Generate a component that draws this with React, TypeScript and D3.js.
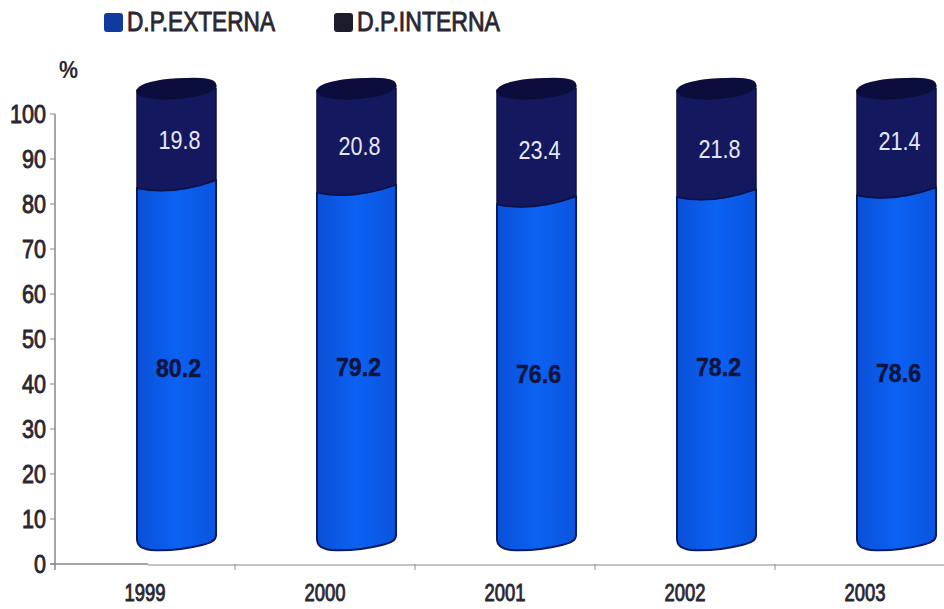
import React from "react";
import * as d3 from "d3";

const years = ["1999", "2000", "2001", "2002", "2003"];
const externa = [80.2, 79.2, 76.6, 78.2, 78.6];
const interna = [19.8, 20.8, 23.4, 21.8, 21.4];
const yTicks = [0, 10, 20, 30, 40, 50, 60, 70, 80, 90, 100];

// Hand-placed label offsets, in px, from the middle of each segment.
const externaNudge = [5, 2, 3, 0, 6];
const internaNudge = [2, 6, 4, 7, 0];

const W = 944;
const H = 609;
const AXIS_COLOR = "#8d8691";
const FONT = "'Liberation Sans', Arial, sans-serif";
const INK = "#2b2730";

const x = d3.scaleBand<string>().domain(years).range([55, 955]);
const y = d3.scaleLinear().domain([0, 100]).range([564, 114]);

// The cylinders sit behind the axis plane, up and to the right.
const DEPTH_X = 31;
const DEPTH_Y = 21;
const BAR_W = 79;

function Cylinder({ year, low, high, lowNudge, highNudge }: { year: string; low: number; high: number; lowNudge: number; highNudge: number }) {
  const cx = (x(year) as number) + x.bandwidth() / 2 + DEPTH_X + 0.5;
  const x0 = cx - BAR_W / 2;
  const x1 = cx + BAR_W / 2;
  const yBase = y(0) - DEPTH_Y;
  const ySplit = y(low) - DEPTH_Y;
  const yTop = y(low + high) - DEPTH_Y;

  const lower = d3.path();
  lower.moveTo(x0, ySplit + 6);
  lower.bezierCurveTo(x0 + BAR_W * 0.3, ySplit + 11, x0 + BAR_W * 0.65, ySplit + 8, x1, ySplit - 2);
  lower.lineTo(x1, yBase - 8);
  lower.bezierCurveTo(x1, yBase - 2, x1 - 6, yBase, x1 - 14, yBase + 2);
  lower.bezierCurveTo(x1 - 30, yBase + 6, x0 + 30, yBase + 8, x0 + 14, yBase + 7);
  lower.bezierCurveTo(x0 + 5, yBase + 6, x0, yBase + 2, x0, yBase - 4);
  lower.closePath();

  const upper = d3.path();
  upper.moveTo(x0, yTop - 3);
  upper.lineTo(x1, yTop - 5);
  upper.lineTo(x1, ySplit - 2);
  upper.bezierCurveTo(x0 + BAR_W * 0.65, ySplit + 8, x0 + BAR_W * 0.3, ySplit + 11, x0, ySplit + 6);
  upper.closePath();

  const lid = d3.path();
  lid.moveTo(x0, yTop - 2);
  lid.bezierCurveTo(x0 + 1, yTop - 9, x0 + 22, yTop - 13, x0 + 40, yTop - 14);
  lid.bezierCurveTo(x1 - 14, yTop - 15, x1, yTop - 15, x1, yTop - 7);
  lid.bezierCurveTo(x1 - 6, yTop + 3, x0 + 38, yTop + 8, x0 + 16, yTop + 5);
  lid.bezierCurveTo(x0 + 6, yTop + 4, x0 + 1, yTop + 2, x0, yTop - 2);
  lid.closePath();

  const lowMid = (yBase + ySplit) / 2 + lowNudge;
  const highMid = (ySplit + yTop) / 2 + highNudge;

  return (
    <g>
      <path d={lower.toString()} fill="url(#externaFill)" stroke="#0a1a5e" strokeWidth={2} strokeLinejoin="round" />
      <path d={upper.toString()} fill="#14195f" stroke="#0e1148" strokeWidth={1.5} strokeLinejoin="round" />
      <path d={lid.toString()} fill="#0b0d3d" stroke="#0b0d3d" strokeWidth={1.5} strokeLinejoin="round" />
      <text x={cx + 2} y={lowMid} dy="0.36em" textAnchor="middle" fontFamily={FONT} fontSize={26} fontWeight={700} fill="#0e1440" stroke="#0e1440" strokeWidth={0.5} textLength={45} lengthAdjust="spacingAndGlyphs">
        {low.toFixed(1)}
      </text>
      <text x={cx + 3} y={highMid} dy="0.36em" textAnchor="middle" fontFamily={FONT} fontSize={25} fill="#e6e7f2" textLength={42} lengthAdjust="spacingAndGlyphs">
        {high.toFixed(1)}
      </text>
    </g>
  );
}

function LegendItem({ swatchX, color, label, width }: { swatchX: number; color: string; label: string; width: number }) {
  return (
    <g>
      <rect x={swatchX} y={13} width={19} height={19} rx={3} fill={color} />
      <text x={swatchX + 23} y={31} fontFamily={FONT} fontSize={27} fill={INK} stroke={INK} strokeWidth={0.9} textLength={width} lengthAdjust="spacingAndGlyphs">
        {label}
      </text>
    </g>
  );
}

export default function App() {
  const band = x.bandwidth();
  return (
    <svg width={W} height={H} viewBox={`0 0 ${W} ${H}`} style={{ position: "absolute", left: 0, top: 0, background: "#fff" }}>
      <defs>
        <linearGradient id="externaFill" x1="0" x2="1" y1="0" y2="0">
          <stop offset="0" stopColor="#0a50d8" />
          <stop offset="0.5" stopColor="#0c62f2" />
          <stop offset="1" stopColor="#0a54de" />
        </linearGradient>
      </defs>

      <LegendItem swatchX={104} color="#0f3a9e" label="D.P.EXTERNA" width={148} />
      <LegendItem swatchX={334} color="#1d1c2c" label="D.P.INTERNA" width={143} />

      <text x={59} y={78} fontFamily={FONT} fontSize={24} fontWeight={700} fill={INK} textLength={19} lengthAdjust="spacingAndGlyphs">%</text>

      {/* axes */}
      <line x1={55} x2={55} y1={y(100)} y2={570} stroke={AXIS_COLOR} strokeWidth={1.5} />
      <line x1={50} x2={148} y1={y(0)} y2={y(0)} stroke={AXIS_COLOR} strokeWidth={1.5} />
      <line x1={148} x2={944} y1={y(0) + 1} y2={y(0) + 1} stroke={AXIS_COLOR} strokeWidth={1} />
      {yTicks.map((t) => (
        <g key={t}>
          <line x1={50} x2={55} y1={y(t)} y2={y(t)} stroke={AXIS_COLOR} strokeWidth={1} />
          <text x={46} y={y(t)} dy="0.36em" textAnchor="end" fontFamily={FONT} fontSize={26} fill={INK} stroke={INK} strokeWidth={0.9} textLength={String(t).length * 12} lengthAdjust="spacingAndGlyphs">
            {t}
          </text>
        </g>
      ))}
      {years.map((yr) => {
        const left = x(yr) as number;
        return (
          <g key={yr}>
            {yr !== years[0] && <line x1={left} x2={left} y1={y(0)} y2={y(0) + 6} stroke={AXIS_COLOR} strokeWidth={1} />}
            <text x={left + band / 2} y={601} textAnchor="middle" fontFamily={FONT} fontSize={23} fill={INK} stroke={INK} strokeWidth={0.9} textLength={41} lengthAdjust="spacingAndGlyphs">
              {yr}
            </text>
          </g>
        );
      })}

      {years.map((yr, i) => (
        <Cylinder key={yr} year={yr} low={externa[i]} high={interna[i]} lowNudge={externaNudge[i]} highNudge={internaNudge[i]} />
      ))}
    </svg>
  );
}
